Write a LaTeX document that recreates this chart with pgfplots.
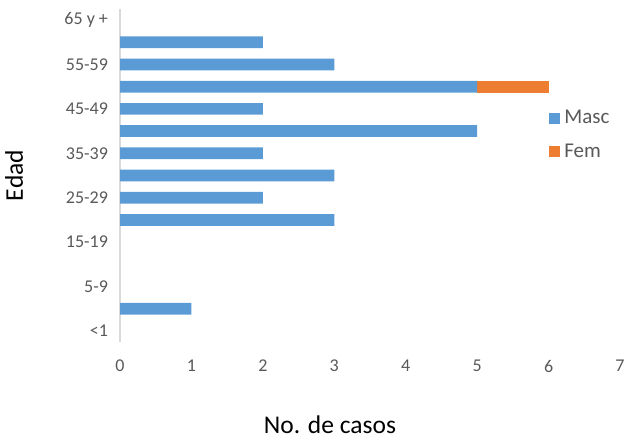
\documentclass[border=0pt]{standalone}
\usepackage{pgfplots}
\pgfplotsset{compat=1.18}
\usepackage{fontspec}
\setmainfont{Carlito}
\definecolor{masc}{HTML}{5B9BD5}
\definecolor{fem}{HTML}{ED7D31}
\definecolor{axgray}{HTML}{D9D9D9}
\definecolor{txtgray}{HTML}{595959}
\begin{document}
\begin{tikzpicture}
\begin{axis}[
  at={(60pt,-171.05pt)}, anchor=south west,
  scale only axis, width=250pt, height=166.6pt,
  xbar stacked, bar width=5.85pt,
  xmin=0, xmax=7, ymin=-0.5, ymax=14.5,
  xtick={0,...,7}, ytick={0,2,...,14},
  yticklabels={<1,5-9,15-19,25-29,35-39,45-49,55-59,65 y +},
  major tick length=0pt,
  /pgf/number format/assume math mode=true,
  tick label style={font=\fontsize{9}{10}\selectfont, text=txtgray},
  xticklabel style={yshift=-5.5pt},
  yticklabel style={xshift=-2.5pt},
  axis x line*=bottom, axis y line*=left,
  x axis line style={draw=none},
  y axis line style={draw=axgray, line width=1pt, -},
  xlabel={No. de casos}, ylabel={Edad},
  xlabel style={at={(axis description cs:0.42,0)}, anchor=center, yshift=-41.5pt, font=\fontsize{12.75}{14}\selectfont, text=black},
  ylabel style={at={(axis description cs:-0.212,0.5)}, anchor=center, font=\fontsize{12.75}{14}\selectfont, text=black},
  legend style={at={(axis description cs:0.846,0.721)}, anchor=north west, draw=none, fill=none, font=\fontsize{10.5}{12}\selectfont, text=txtgray, row sep=4.5pt},
  legend cell align=left,
  legend image code/.code={\fill[#1] (0pt,-2.75pt) rectangle (5.5pt,2.75pt);},
]
\addplot[fill=masc, draw=none] coordinates {
(0,0) (1,1) (0,2) (0,3) (0,4) (3,5) (2,6) (3,7) (2,8) (5,9) (2,10) (5,11) (3,12) (2,13) (0,14)};
\addlegendentry{Masc}
\addplot[fill=fem, draw=none] coordinates {
(0,0) (0,1) (0,2) (0,3) (0,4) (0,5) (0,6) (0,7) (0,8) (0,9) (0,10) (1,11) (0,12) (0,13) (0,14)};
\addlegendentry{Fem}
\end{axis}
\pgfresetboundingbox
\useasboundingbox (0,0) rectangle (312pt,-220pt);
\end{tikzpicture}
\end{document}
